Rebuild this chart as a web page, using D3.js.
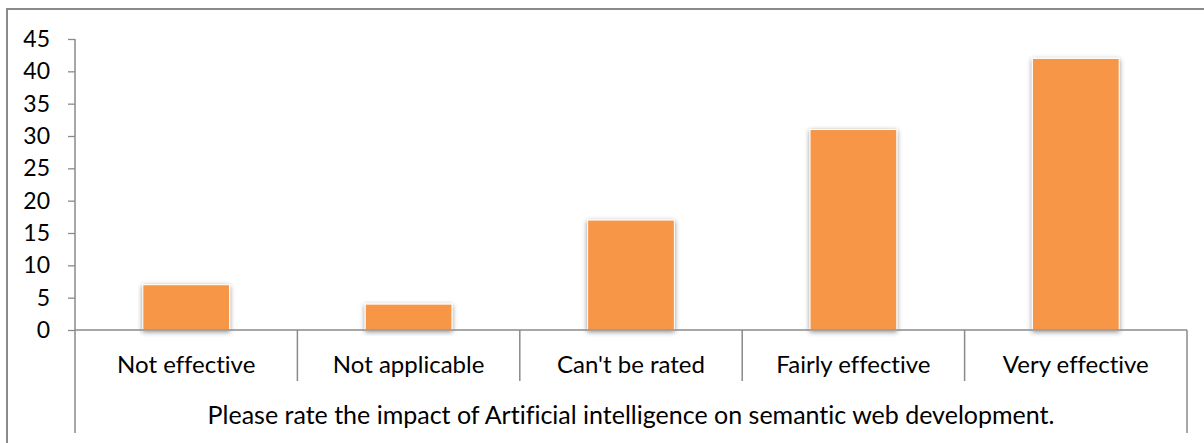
<!DOCTYPE html>
<html>
<head>
<meta charset="utf-8">
<script src="https://cdn.jsdelivr.net/npm/d3@7"></script>
<style>
  html, body { margin: 0; padding: 0; background: #fff; }
  svg { display: block; }
  text { font-family: Lato, "Open Sans", sans-serif; fill: #000; font-variant-ligatures: none; font-feature-settings: "liga" 0, "clig" 0; }
</style>
</head>
<body>
<svg id="chart" width="1204" height="443"></svg>
<script>
// Survey responses: impact of AI on semantic web development
const categories = ["Not effective", "Not applicable", "Can't be rated", "Fairly effective", "Very effective"];
const counts = [7, 4, 17, 31, 42];
const yTicks = [0, 5, 10, 15, 20, 25, 30, 35, 40, 45];
const axisTitle = "Please rate the impact of Artificial intelligence on semantic web development.";

const svg = d3.select("#chart");
const W = 1204, H = 443;
const plot = { left: 75, right: 1187, top: 39, bottom: 330 };
const axisGray = "#8a8a8a";

// Drop shadow used by the bars
const defs = svg.append("defs");
const f = defs.append("filter").attr("id", "barShadow")
  .attr("x", "-20%").attr("y", "-20%").attr("width", "140%").attr("height", "140%");
f.append("feDropShadow").attr("dx", 0).attr("dy", 1.5).attr("stdDeviation", 2.5)
  .attr("flood-color", "#000").attr("flood-opacity", 0.45);

// Outer chart frame
svg.append("rect")
  .attr("x", 7).attr("y", 9).attr("width", W + 10).attr("height", H + 10)
  .attr("fill", "none").attr("stroke", axisGray).attr("stroke-width", 2);

const y = d3.scaleLinear().domain([0, 45]).range([plot.bottom, plot.top]);
const cells = d3.scaleBand().domain(categories).range([plot.left, plot.right]).padding(0);
const x = d3.scaleBand().domain(categories).range([plot.left, plot.right])
  .paddingInner(0.61).paddingOuter(0.305);

// Bars
svg.append("g").selectAll("rect")
  .data(categories.map((c, i) => ({ c, v: counts[i] })))
  .join("rect")
  .attr("x", d => x(d.c))
  .attr("y", d => y(d.v))
  .attr("width", x.bandwidth())
  .attr("height", d => y(0) - y(d.v))
  .attr("fill", "#f79646")
  .attr("stroke", "#ffffff").attr("stroke-width", 1)
  .attr("filter", "url(#barShadow)");

// Value axis
const yAxis = svg.append("g")
  .attr("transform", `translate(${plot.left},0)`)
  .call(d3.axisLeft(y).tickValues(yTicks).tickSize(7).tickPadding(18).tickSizeOuter(0));
yAxis.select(".domain").remove();
yAxis.selectAll(".tick line").attr("stroke", axisGray).attr("stroke-width", 1.3);
yAxis.selectAll(".tick text").attr("font-size", 23).attr("font-family", "Lato, sans-serif").attr("fill", "#000");

// Vertical axis line, reaching down through the category rows
svg.append("line")
  .attr("x1", plot.left).attr("x2", plot.left)
  .attr("y1", y(45)).attr("y2", 433)
  .attr("stroke", axisGray).attr("stroke-width", 1.5);

// Category axis line
svg.append("line")
  .attr("x1", plot.left).attr("x2", plot.right)
  .attr("y1", y(0)).attr("y2", y(0))
  .attr("stroke", axisGray).attr("stroke-width", 1.5);

// Separators between category cells
const bounds = categories.map(c => cells(c) + cells.bandwidth());
svg.append("g").selectAll("line")
  .data(bounds)
  .join("line")
  .attr("x1", d => d).attr("x2", d => d)
  .attr("y1", y(0)).attr("y2", (d, i) => i === bounds.length - 1 ? 433 : 381)
  .attr("stroke", axisGray).attr("stroke-width", 1.5);

// Category labels
svg.append("g").selectAll("text")
  .data(categories)
  .join("text")
  .attr("x", c => cells(c) + cells.bandwidth() / 2)
  .attr("y", 373)
  .attr("text-anchor", "middle")
  .attr("font-size", 24)
  .text(c => c);

// Group title under the categories
svg.append("text")
  .attr("x", (plot.left + plot.right) / 2)
  .attr("y", 424)
  .attr("text-anchor", "middle")
  .attr("font-size", 25)
  .text(axisTitle);
</script>
</body>
</html>
